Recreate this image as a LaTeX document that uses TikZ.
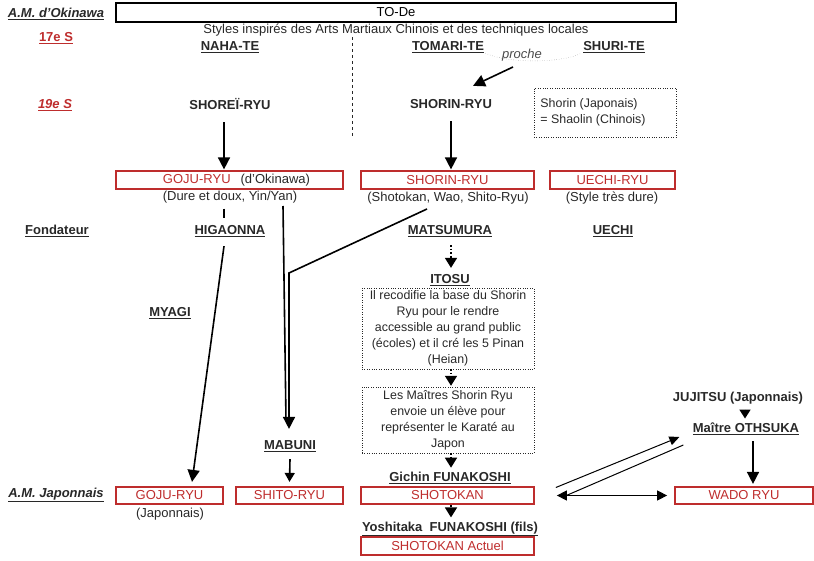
\documentclass[tikz,border=0pt]{standalone}
\usepackage{fontspec}
\setmainfont{Liberation Sans}
\usetikzlibrary{arrows.meta,positioning,calc}
\definecolor{boxred}{RGB}{190,45,45}
\definecolor{inktext}{RGB}{40,40,40}

\begin{document}
\begin{tikzpicture}[x=1pt,y=-1pt,
    font=\fontsize{13}{16}\selectfont, text=inktext,
    redbox/.style={draw=boxred, line width=1.7pt, text=boxred, minimum height=17.5pt, inner sep=0pt},
    ulbl/.style={font=\fontsize{13}{16}\selectfont\bfseries},
    era/.style={font=\fontsize{13}{16}\selectfont\bfseries, text=boxred},
    side/.style={font=\fontsize{13}{16}\selectfont\bfseries\itshape},
    note/.style={draw=inktext, dotted, thin, align=center, inner sep=0pt, minimum width=172pt, font=\fontsize{12.4}{16}\selectfont},
    arr/.style={line width=1.6pt, -{Triangle[length=12pt,width=12pt]}},
    darr/.style={line width=1.6pt, dotted, -{Triangle[length=10pt,width=12pt]}}]
  \useasboundingbox (0,0) rectangle (814,561);

  % left column
  \node[side] (okinawa) at (56,14) {\underline{A.M. d'Okinawa}};
  \node[era] (s17) at (56,38) {\underline{17e S}};
  \node[era, font=\fontsize{13}{16}\selectfont\bfseries\itshape] (s19) at (55,105) {\underline{19e S}};
  \node[ulbl] (fondateur) at (57,231) {\underline{Fondateur}};
  \node[side] (japonnais) at (56,495) {\underline{A.M. Japonnais}};

  % top
  \node[draw=black, line width=2pt, minimum width=560pt, minimum height=19pt, inner sep=0pt, text=black] (tode) at (396,12.5) {TO-De};
  \node (styles) at (396,30) {Styles inspirés des Arts Martiaux Chinois et des techniques locales};
  \node[ulbl] (naha) at (230,47) {\underline{NAHA-TE}};
  \node[ulbl] (tomari) at (448,47) {\underline{TOMARI-TE}};
  \node[ulbl] (shuri) at (614,47) {\underline{SHURI-TE}};
  \node[font=\fontsize{13}{16}\selectfont\itshape, text=gray!60!black] (proche) at (522,55) {proche};
  \draw[gray, dotted, thin] ([xshift=-2pt,yshift=3pt]tomari.south east) .. controls (505,63) and (560,64) .. ([xshift=2pt,yshift=3pt]shuri.south west);
  \draw[inktext, dashed, line width=1pt] (352,37) -- (352,137);

  % 19e siecle
  \node[ulbl] (shorei) at (230,104) {SHOREÏ-RYU};
  \node[ulbl] (shorinA) at (451,104) {SHORIN-RYU};
  \node[note, minimum width=142pt, minimum height=49pt, align=left] (shaolin) at (605,112.5) {Shorin (Japonais)\\= Shaolin (Chinois)\hspace*{24pt}};
  \coordinate (procheArr) at (513,67);
  \draw[arr] (procheArr) -- ([xshift=22pt,yshift=10pt]shorinA.north);

  % styles d'Okinawa
  \node[redbox, minimum width=227pt] (gojuA) at (229.5,180) {\hspace*{14pt}GOJU-RYU\hspace{10pt}{\color{inktext}(d'Okinawa)}};
  \node[redbox, minimum width=173pt] (shorinB) at (447.5,180) {SHORIN-RYU};
  \node[redbox, minimum width=125pt] (uechiB) at (612.5,180) {UECHI-RYU};
  \node (dure) at (230,197) {(Dure et doux, Yin/Yan)};
  \node (shotowao) at (448,198) {(Shotokan, Wao, Shito-Ryu)};
  \node (tresdure) at (612,198) {(Style très dure)};
  \draw[arr] ([xshift=-6pt,yshift=-9pt]shorei.south) -- ([xshift=-5.5pt,yshift=1pt]gojuA.north);
  \draw[arr] ([yshift=-9pt]shorinA.south) -- ([xshift=3.5pt,yshift=1pt]shorinB.north);

  % fondateurs
  \node[ulbl] (higaonna) at (230,231) {\underline{HIGAONNA}};
  \node[ulbl] (matsumura) at (450,231) {\underline{MATSUMURA}};
  \node[ulbl] (uechi) at (613,231) {\underline{UECHI}};
  \node[ulbl] (myagi) at (170,313) {\underline{MYAGI}};
  \node[ulbl] (itosu) at (450,280) {\underline{ITOSU}};
  \node[note, minimum height=81pt] (recodifie) at (448,328.5) {Il recodifie la base du Shorin\\Ryu pour le rendre\\accessible au grand public\\(écoles) et il cré les 5 Pinan\\(Heian)};
  \node[note, minimum height=66pt] (maitres) at (448,420) {Les Maîtres Shorin Ryu\\envoie un élève pour\\représenter le Karaté au\\Japon};
  \node[ulbl] (gichin) at (450,478) {\underline{Gichin FUNAKOSHI}};
  \node[ulbl] (mabuni) at (290,446) {\underline{MABUNI}};
  \node[ulbl] (jujitsu) at (738,398) {JUJITSU (Japonnais)};
  \node[ulbl] (othsuka) at (746,429) {\underline{Maître OTHSUKA}};

  % styles japonais
  \node[redbox, minimum width=107pt] (gojuB) at (169.5,495.5) {GOJU-RYU};
  \node[redbox, minimum width=107pt] (shitoB) at (289.5,495.5) {SHITO-RYU};
  \node[redbox, minimum width=173pt] (shotoB) at (447.5,495.5) {SHOTOKAN};
  \node[redbox, minimum width=138pt] (wado) at (744,495.5) {WADO RYU};
  \node (japGoju) at (170,514) {(Japonnais)};
  \node[ulbl] (yoshitaka) at (450,529) {\underline{Yoshitaka\ \ FUNAKOSHI (fils)}};
  \node[redbox, minimum width=173pt] (actuel) at (447.5,546) {SHOTOKAN Actuel};

  % liens
  \draw[line width=1.6pt] ([xshift=-6pt,yshift=-2pt]dure.south) -- ([xshift=-6pt,yshift=4pt]higaonna.north);
  \draw[arr] ([xshift=-6pt,yshift=-6pt]higaonna.south) -- ([xshift=22.5pt,yshift=4pt]gojuB.north);
  \coordinate (gojuDrop) at (283,206);
  \coordinate (shorinDrop) at (427,209);
  \coordinate (shorinBend) at (289,273);
  \draw[line width=1.6pt] (gojuDrop) -- ([xshift=-4pt,yshift=16pt]mabuni.north);
  \draw[arr] (shorinDrop) -- (shorinBend) -- ([xshift=-1pt,yshift=8pt]mabuni.north);
  \draw[arr, -{Triangle[length=9pt,width=10pt]}] ([yshift=-4pt]mabuni.south) -- ([yshift=4pt]shitoB.north);
  \draw[darr] ([xshift=1pt,yshift=-5pt]matsumura.south) -- ([xshift=1pt,yshift=3pt]itosu.north);
  \draw[darr] ([xshift=3pt]recodifie.south) -- ([xshift=3pt,yshift=1pt]maitres.north);
  \draw[darr] ([xshift=3pt]maitres.south) -- ([xshift=1pt,yshift=1pt]gichin.north);
  \draw[darr] ([xshift=3.5pt]shotoB.south) -- ([xshift=1pt,yshift=1pt]yoshitaka.north);
  \draw[line width=1pt, {Triangle[length=10pt,width=10pt]}-{Triangle[length=10pt,width=10pt]}] ([xshift=22pt]shotoB.east) -- ([xshift=-7pt]wado.west);
  \draw[line width=1pt, -{Triangle[length=10pt,width=9pt]}] ([xshift=21pt,yshift=8pt]shotoB.east) -- ([xshift=-10pt,yshift=-8pt]othsuka.west);
  \draw[line width=1pt] ([xshift=28pt,yshift=-1.5pt]shotoB.east) -- ([xshift=-6pt,yshift=-16pt]othsuka.west);
  \draw[arr, -{Triangle[length=9pt,width=11pt]}] ([xshift=7pt,yshift=-2pt]jujitsu.south) -- ([xshift=-1pt,yshift=1pt]othsuka.north);
  \draw[arr] ([xshift=7pt,yshift=-3pt]othsuka.south) -- ([xshift=9pt,yshift=2pt]wado.north);
\end{tikzpicture}
\end{document}
